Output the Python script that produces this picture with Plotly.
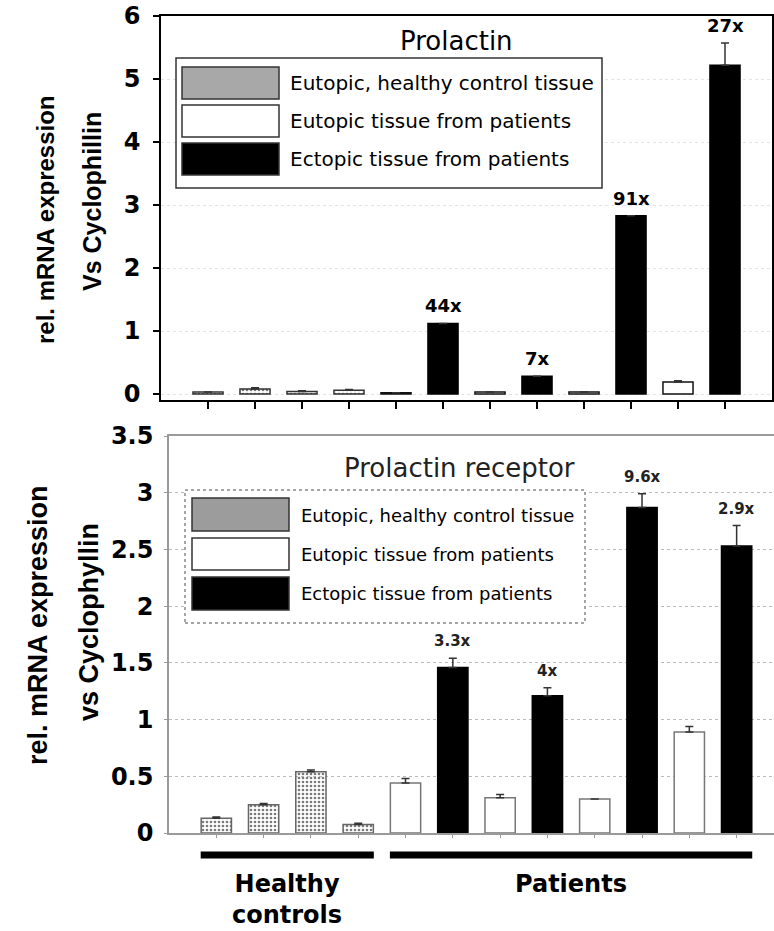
import plotly.graph_objects as go

# ---------------- data ----------------
positions = [1, 2, 3, 4, 5, 6, 7, 8, 9, 10, 11, 12]
tissue = ["healthy", "healthy", "healthy", "healthy",
          "eutopic", "ectopic", "eutopic", "ectopic",
          "eutopic", "ectopic", "eutopic", "ectopic"]

prl_values = [0.03, 0.08, 0.04, 0.06, 0.02, 1.12, 0.03, 0.28, 0.03, 2.83, 0.19, 5.22]
prl_errors = [0.0, 0.02, 0.01, 0.01, 0.0, 0.0, 0.0, 0.0, 0.0, 0.0, 0.02, 0.35]
prl_fold_pos = [6, 8, 10, 12]
prl_fold_text = ["44x", "7x", "91x", "27x"]

prlr_values = [0.13, 0.25, 0.54, 0.075, 0.44, 1.46, 0.31, 1.21, 0.30, 2.87, 0.89, 2.53]
prlr_errors = [0.01, 0.01, 0.015, 0.01, 0.04, 0.08, 0.03, 0.07, 0.0, 0.12, 0.05, 0.18]
prlr_fold_pos = [6, 8, 10, 12]
prlr_fold_text = ["3.3x", "4x", "9.6x", "2.9x"]

legend_labels = ["Eutopic, healthy control tissue",
                 "Eutopic tissue from patients",
                 "Ectopic tissue from patients"]
legend_keys = ["healthy", "eutopic", "ectopic"]

group_names = ["Healthy<br>controls", "Patients"]
group_first = [1, 5]
group_last = [4, 12]

top_title = "Prolactin"
bottom_title = "Prolactin receptor"
top_ytitle = ["rel. mRNA expression", "Vs Cyclophillin"]
bottom_ytitle = ["rel. mRNA expression", "vs Cyclophyllin"]

# ---------------- styling ----------------
W, H = 774, 931
def px(x):
    return x / W
def py(y):
    return 1 - y / H

TICKFONT = dict(family="DejaVu Sans", size=24, color="black", weight="bold")
BAR_W = 0.64

fills_top = {"healthy": "#bdbdbd", "eutopic": "white", "ectopic": "black"}
lines_top = {"healthy": "#333333", "eutopic": "#111111", "ectopic": "black"}
fills_bot = {"healthy": "#cfcfcf", "eutopic": "white", "ectopic": "black"}
lines_bot = {"healthy": "#666666", "eutopic": "#777777", "ectopic": "black"}

fig = go.Figure()

def add_bars(values, errors, xa, ya, fills, lines, errcolor):
    for key in legend_keys:
        xs = [p for p, t in zip(positions, tissue) if t == key]
        vs = [v for v, t in zip(values, tissue) if t == key]
        es = [e for e, t in zip(errors, tissue) if t == key]
        marker = dict(color=fills[key], line=dict(color=lines[key], width=1.5))
        if key == "healthy":
            marker["pattern"] = dict(shape=".", fgcolor="#7a7a7a", size=4, solidity=0.35)
        fig.add_trace(go.Bar(
            x=xs, y=vs, width=BAR_W, xaxis=xa, yaxis=ya,
            marker=marker, showlegend=False,
            error_y=dict(type="data", array=es, arrayminus=[0] * len(es),
                         symmetric=False, color=errcolor, thickness=1.5, width=4),
        ))

add_bars(prl_values, prl_errors, "x", "y", fills_top, lines_top, "#333")
add_bars(prlr_values, prlr_errors, "x2", "y2", fills_bot, lines_bot, "#333")

annotations = []
shapes = []

# fold-change labels
for p, t in zip(prl_fold_pos, prl_fold_text):
    i = positions.index(p)
    annotations.append(dict(x=p, y=prl_values[i] + prl_errors[i], xref="x", yref="y",
                            text=t, showarrow=False, xanchor="center", yanchor="bottom", yshift=5,
                            font=dict(family="DejaVu Sans", size=18, color="black", weight="bold")))
for p, t in zip(prlr_fold_pos, prlr_fold_text):
    i = positions.index(p)
    annotations.append(dict(x=p, y=prlr_values[i] + prlr_errors[i], xref="x2", yref="y2",
                            text=t, showarrow=False, xanchor="center", yanchor="bottom", yshift=6,
                            font=dict(family="DejaVu Sans", size=15, color="#222", weight="bold")))

# titles inside the plots
annotations.append(dict(x=px(456), y=py(41), xref="paper", yref="paper", text=top_title,
                        showarrow=False, xanchor="center", yanchor="middle",
                        font=dict(family="DejaVu Sans", size=26, color="black")))
annotations.append(dict(x=px(459), y=py(468), xref="paper", yref="paper", text=bottom_title,
                        showarrow=False, xanchor="center", yanchor="middle",
                        font=dict(family="DejaVu Sans", size=26, color="#222")))

# y-axis titles (two lines each)
for txt, cx, cy, sz in [(top_ytitle[0], 45, 220, 24), (top_ytitle[1], 92, 202, 25),
                        (bottom_ytitle[0], 38, 625, 27), (bottom_ytitle[1], 89, 622, 27)]:
    annotations.append(dict(x=px(cx), y=py(cy), xref="paper", yref="paper", text=txt,
                            textangle=-90, showarrow=False, xanchor="center", yanchor="middle",
                            font=dict(family="Liberation Sans", size=sz, color="black", weight="bold")))

# legends (drawn boxes)
def draw_legend(box, sw_x, sw_ys, text_x, text_ys, fsize, border, dash, swatch_fill):
    shapes.append(dict(type="rect", xref="paper", yref="paper",
                       x0=px(box[0]), x1=px(box[1]), y0=py(box[3]), y1=py(box[2]),
                       line=dict(color=border, width=1.5, dash=dash), fillcolor="white"))
    for key, lab, (y0, y1), ty in zip(legend_keys, legend_labels, sw_ys, text_ys):
        shapes.append(dict(type="rect", xref="paper", yref="paper",
                           x0=px(sw_x[0]), x1=px(sw_x[1]), y0=py(y1), y1=py(y0),
                           line=dict(color="#333", width=1.5),
                           fillcolor=swatch_fill[key]))
        annotations.append(dict(x=px(text_x), y=py(ty), xref="paper", yref="paper",
                                text=lab, showarrow=False, xanchor="left", yanchor="middle",
                                font=dict(family="DejaVu Sans", size=fsize, color="black")))

draw_legend((176, 602, 58, 188), (182, 279), [(67, 99), (105, 137), (143, 175)],
            288, [83, 121, 159], 20, "#333", "solid",
            {"healthy": "#a8a8a8", "eutopic": "white", "ectopic": "black"})
draw_legend((185, 585, 490, 623), (192, 289), [(498, 531), (538, 570), (577, 610)],
            299, [515, 554, 593], 18, "#888", "dot",
            {"healthy": "#9c9c9c", "eutopic": "white", "ectopic": "black"})

# group bars and labels under the bottom chart
for name, a, b in zip(group_names, group_first, group_last):
    shapes.append(dict(type="line", xref="x2", yref="paper",
                       x0=a - 0.33, x1=b + 0.33, y0=py(855), y1=py(855),
                       line=dict(color="black", width=7)))
    annotations.append(dict(x=(a + b) / 2, y=py(868), xref="x2", yref="paper",
                            text=name, showarrow=False, xanchor="center", yanchor="top",
                            font=dict(family="DejaVu Sans", size=24, color="black", weight="bold")))

fig.update_layout(
    template="none",
    width=W, height=H, margin=dict(l=0, r=0, t=0, b=0, autoexpand=False),
    paper_bgcolor="white", plot_bgcolor="white", barmode="overlay",
    annotations=annotations, shapes=shapes,
    xaxis=dict(domain=[px(161), px(772)], range=[0, 13], tickvals=positions,
               ticktext=[""] * len(positions), ticks="outside", ticklen=7, tickwidth=1.5,
               tickcolor="black", showline=True, linecolor="black", linewidth=1.5,
               mirror=True, showgrid=False, zeroline=False, anchor="y", automargin=False),
    yaxis=dict(domain=[py(400.3), py(16)], range=[-0.1, 6], tickvals=[0, 1, 2, 3, 4, 5, 6],
               ticks="outside", ticklen=6, tickwidth=1.5, tickcolor="black",
               tickfont=TICKFONT, ticklabelstandoff=8,
               showline=True, linecolor="black", linewidth=1.5, mirror=True,
               showgrid=True, gridcolor="#e4e4e4", griddash="dot", gridwidth=1,
               zeroline=False, anchor="x", automargin=False),
    xaxis2=dict(domain=[px(169), 1], range=[0, 12.79], tickvals=positions,
                ticktext=[""] * len(positions), ticks="outside", ticklen=3, tickwidth=1,
                tickcolor="#999", showline=True, linecolor="#9a9a9a", linewidth=1.5,
                mirror=True, showgrid=False, zeroline=False, anchor="y2", automargin=False),
    yaxis2=dict(domain=[py(833), py(436)], range=[0, 3.5], dtick=0.5, tick0=0,
                ticks="outside", ticklen=3, tickwidth=1, tickcolor="#999",
                tickfont=TICKFONT, ticklabelstandoff=6,
                showline=True, linecolor="#9a9a9a", linewidth=1.5,
                showgrid=True, gridcolor="#bbbbbb", griddash="dot", gridwidth=1,
                zeroline=False, anchor="x2", automargin=False),
)

fig.write_html("out.html", config={"displayModeBar": False},
               post_script="document.body.style.margin='0';document.body.style.overflow='hidden';")
